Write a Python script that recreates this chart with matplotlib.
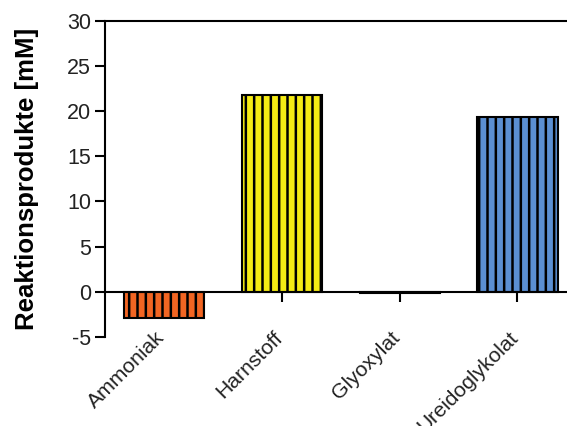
import matplotlib
matplotlib.use("Agg")
import matplotlib.pyplot as plt
from matplotlib.transforms import ScaledTranslation

categories = ["Ammoniak", "Harnstoff", "Glyoxylat", "Ureidoglykolat"]
values = [-2.85, 21.8, -0.1, 19.4]
colors = ["#F26522", "#F5EB14", "#333333", "#5B8FD2"]
yticks = [-5, 0, 5, 10, 15, 20, 25, 30]

plt.rcParams['font.family'] = ['Liberation Sans', 'DejaVu Sans']
plt.rcParams['hatch.linewidth'] = 1.8
plt.rcParams['hatch.color'] = 'black'

fig = plt.figure(figsize=(5.67, 4.26), dpi=100)
ax = fig.add_axes([0.185, 0.209, 0.815, 0.742])

x = list(range(len(categories)))
ax.bar(x, values, width=0.68, color=colors, edgecolor='black', linewidth=1.5,
       hatch='||', zorder=2)

ax.set_xlim(-0.5, 3.42)
ax.set_ylim(-5, 30)
ax.set_yticks(yticks)
ax.set_yticklabels([str(v) for v in yticks], fontsize=15.5, color='#222222')

ax.spines['right'].set_visible(False)
ax.spines['bottom'].set_position(('data', 0))
for s in ['left', 'top', 'bottom']:
    ax.spines[s].set_linewidth(1.5)

ax.tick_params(axis='y', direction='out', length=7, width=1.5, pad=3)
ax.tick_params(axis='x', direction='out', length=7, width=1.5, pad=19)
ax.set_xticks(x)
ax.set_xticklabels(categories, rotation=45, ha='right', va='top',
                   rotation_mode='anchor', fontsize=15.2, color='#222222')
shift = ScaledTranslation(-0.09, 0.0, fig.dpi_scale_trans)
for lab in ax.get_xticklabels():
    lab.set_transform(lab.get_transform() + shift)

ax.set_ylabel("Reaktionsprodukte [mM]", fontsize=18.5, fontweight='bold', labelpad=20)

fig.savefig("out.png", dpi=100)
